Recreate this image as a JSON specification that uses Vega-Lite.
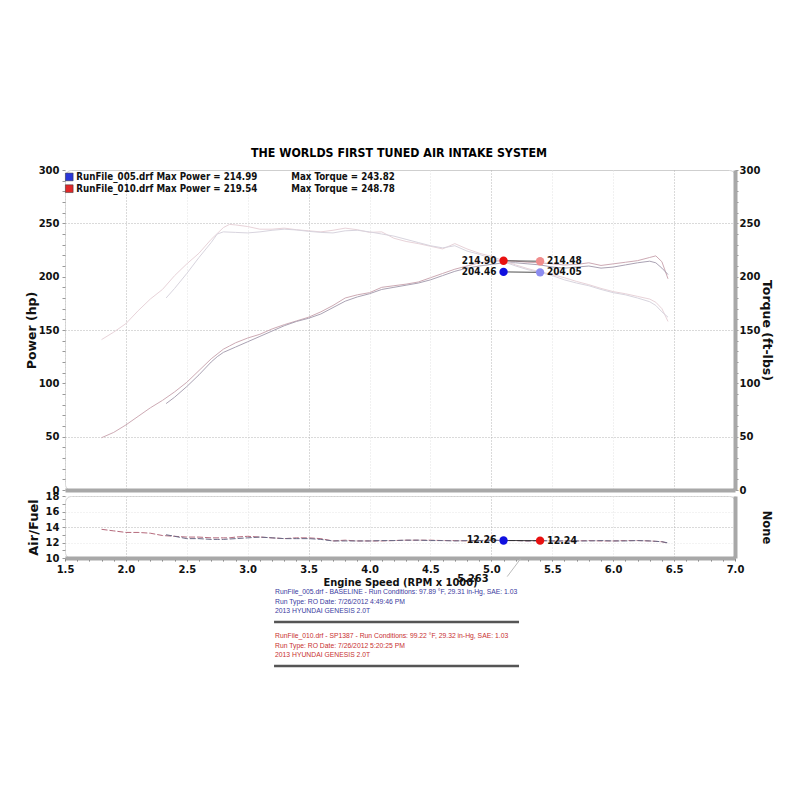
{
  "$schema": "https://vega.github.io/schema/vega-lite/v6.json",
  "background": "white",
  "padding": {"left": 24, "top": 147, "right": 10, "bottom": 10},
  "title": {
    "text": "THE WORLDS FIRST TUNED AIR INTAKE SYSTEM",
    "font": "DejaVu Sans Condensed",
    "fontSize": 12.3,
    "fontWeight": "bold",
    "color": "#000000",
    "anchor": "middle",
    "offset": 5
  },
  "bounds": "flush",
  "spacing": 6,
  "datasets": {
    "dyno": [
      {"run": "010", "rpm": 1.8, "hp": 49, "tq": 141, "af": 13.7},
      {"run": "010", "rpm": 1.9, "hp": 54, "tq": 148, "af": 13.5},
      {"run": "010", "rpm": 2.0, "hp": 61, "tq": 156, "af": 13.3},
      {"run": "010", "rpm": 2.1, "hp": 69, "tq": 168, "af": 13.3},
      {"run": "010", "rpm": 2.2, "hp": 77, "tq": 179, "af": 13.2},
      {"run": "010", "rpm": 2.3, "hp": 84, "tq": 188, "af": 12.9},
      {"run": "010", "rpm": 2.4, "hp": 92, "tq": 201, "af": 12.8},
      {"run": "010", "rpm": 2.5, "hp": 101, "tq": 212, "af": 12.7},
      {"run": "010", "rpm": 2.6, "hp": 112, "tq": 222, "af": 12.7},
      {"run": "010", "rpm": 2.7, "hp": 123, "tq": 235, "af": 12.6},
      {"run": "010", "rpm": 2.8, "hp": 132, "tq": 246, "af": 12.6},
      {"run": "010", "rpm": 2.85, "hp": 135, "tq": 249, "af": 12.6},
      {"run": "010", "rpm": 2.9, "hp": 138, "tq": 248.5, "af": 12.7},
      {"run": "010", "rpm": 3.0, "hp": 142.5, "tq": 247, "af": 12.8},
      {"run": "010", "rpm": 3.1, "hp": 146, "tq": 244.5, "af": 12.7},
      {"run": "010", "rpm": 3.2, "hp": 151, "tq": 244.5, "af": 12.6},
      {"run": "010", "rpm": 3.3, "hp": 155, "tq": 245.5, "af": 12.5},
      {"run": "010", "rpm": 3.4, "hp": 158.5, "tq": 244, "af": 12.6},
      {"run": "010", "rpm": 3.5, "hp": 162, "tq": 243, "af": 12.6},
      {"run": "010", "rpm": 3.6, "hp": 167, "tq": 242, "af": 12.5},
      {"run": "010", "rpm": 3.7, "hp": 173, "tq": 243.5, "af": 12.2},
      {"run": "010", "rpm": 3.8, "hp": 180, "tq": 245.5, "af": 12.3},
      {"run": "010", "rpm": 3.9, "hp": 183, "tq": 244, "af": 12.2},
      {"run": "010", "rpm": 4.0, "hp": 185, "tq": 241.5, "af": 12.2},
      {"run": "010", "rpm": 4.1, "hp": 190, "tq": 242, "af": 12.2},
      {"run": "010", "rpm": 4.2, "hp": 191.5, "tq": 236, "af": 12.25},
      {"run": "010", "rpm": 4.3, "hp": 193, "tq": 233, "af": 12.3},
      {"run": "010", "rpm": 4.4, "hp": 195, "tq": 231, "af": 12.3},
      {"run": "010", "rpm": 4.5, "hp": 199, "tq": 228.5, "af": 12.3},
      {"run": "010", "rpm": 4.6, "hp": 203, "tq": 226, "af": 12.25},
      {"run": "010", "rpm": 4.7, "hp": 207, "tq": 231, "af": 12.25},
      {"run": "010", "rpm": 4.8, "hp": 210, "tq": 226, "af": 12.2},
      {"run": "010", "rpm": 4.9, "hp": 213, "tq": 222, "af": 12.25},
      {"run": "010", "rpm": 5.0, "hp": 214.5, "tq": 219, "af": 12.3},
      {"run": "010", "rpm": 5.1, "hp": 215, "tq": 215, "af": 12.25},
      {"run": "010", "rpm": 5.2, "hp": 214.5, "tq": 211, "af": 12.25},
      {"run": "010", "rpm": 5.3, "hp": 213.5, "tq": 207.5, "af": 12.2},
      {"run": "010", "rpm": 5.4, "hp": 213, "tq": 204.5, "af": 12.25},
      {"run": "010", "rpm": 5.5, "hp": 212, "tq": 202, "af": 12.2},
      {"run": "010", "rpm": 5.6, "hp": 211, "tq": 199, "af": 12.2},
      {"run": "010", "rpm": 5.7, "hp": 211.5, "tq": 195.5, "af": 12.2},
      {"run": "010", "rpm": 5.8, "hp": 213, "tq": 192.5, "af": 12.25},
      {"run": "010", "rpm": 5.9, "hp": 210.5, "tq": 189, "af": 12.2},
      {"run": "010", "rpm": 6.0, "hp": 212, "tq": 186, "af": 12.2},
      {"run": "010", "rpm": 6.1, "hp": 213.5, "tq": 184, "af": 12.25},
      {"run": "010", "rpm": 6.2, "hp": 215, "tq": 181.5, "af": 12.25},
      {"run": "010", "rpm": 6.3, "hp": 218, "tq": 179, "af": 12.2},
      {"run": "010", "rpm": 6.35, "hp": 219.5, "tq": 176, "af": 12.15},
      {"run": "010", "rpm": 6.4, "hp": 214, "tq": 170, "af": 12.1},
      {"run": "010", "rpm": 6.45, "hp": 198, "tq": 158, "af": 11.9},
      {"run": "005", "rpm": 2.33, "hp": 81, "tq": 180, "af": 13.0},
      {"run": "005", "rpm": 2.4, "hp": 87, "tq": 189, "af": 12.8},
      {"run": "005", "rpm": 2.5, "hp": 97, "tq": 203, "af": 12.5},
      {"run": "005", "rpm": 2.6, "hp": 108, "tq": 218, "af": 12.5},
      {"run": "005", "rpm": 2.7, "hp": 120, "tq": 232, "af": 12.4},
      {"run": "005", "rpm": 2.75, "hp": 125, "tq": 240, "af": 12.4},
      {"run": "005", "rpm": 2.8, "hp": 129, "tq": 242, "af": 12.4},
      {"run": "005", "rpm": 2.9, "hp": 134, "tq": 241.5, "af": 12.5},
      {"run": "005", "rpm": 3.0, "hp": 139, "tq": 241, "af": 12.6},
      {"run": "005", "rpm": 3.1, "hp": 144, "tq": 242, "af": 12.7},
      {"run": "005", "rpm": 3.2, "hp": 149, "tq": 243.5, "af": 12.6},
      {"run": "005", "rpm": 3.3, "hp": 154, "tq": 244.5, "af": 12.5},
      {"run": "005", "rpm": 3.4, "hp": 158, "tq": 243.8, "af": 12.5},
      {"run": "005", "rpm": 3.5, "hp": 161, "tq": 242.5, "af": 12.5},
      {"run": "005", "rpm": 3.6, "hp": 165, "tq": 241.5, "af": 12.4},
      {"run": "005", "rpm": 3.7, "hp": 171, "tq": 241, "af": 12.2},
      {"run": "005", "rpm": 3.8, "hp": 177, "tq": 243, "af": 12.2},
      {"run": "005", "rpm": 3.9, "hp": 181, "tq": 243.5, "af": 12.2},
      {"run": "005", "rpm": 4.0, "hp": 184, "tq": 242, "af": 12.2},
      {"run": "005", "rpm": 4.1, "hp": 188, "tq": 240, "af": 12.25},
      {"run": "005", "rpm": 4.2, "hp": 190, "tq": 238, "af": 12.25},
      {"run": "005", "rpm": 4.3, "hp": 192, "tq": 235, "af": 12.3},
      {"run": "005", "rpm": 4.4, "hp": 194, "tq": 232, "af": 12.3},
      {"run": "005", "rpm": 4.5, "hp": 197, "tq": 229, "af": 12.25},
      {"run": "005", "rpm": 4.6, "hp": 201, "tq": 227, "af": 12.25},
      {"run": "005", "rpm": 4.7, "hp": 205, "tq": 229, "af": 12.2},
      {"run": "005", "rpm": 4.8, "hp": 208, "tq": 224, "af": 12.25},
      {"run": "005", "rpm": 4.9, "hp": 210, "tq": 221, "af": 12.25},
      {"run": "005", "rpm": 5.0, "hp": 211.5, "tq": 217, "af": 12.3},
      {"run": "005", "rpm": 5.1, "hp": 213, "tq": 214, "af": 12.25},
      {"run": "005", "rpm": 5.2, "hp": 213, "tq": 210, "af": 12.25},
      {"run": "005", "rpm": 5.3, "hp": 212, "tq": 206.5, "af": 12.2},
      {"run": "005", "rpm": 5.4, "hp": 211, "tq": 204, "af": 12.25},
      {"run": "005", "rpm": 5.5, "hp": 209, "tq": 201, "af": 12.2},
      {"run": "005", "rpm": 5.6, "hp": 208, "tq": 197, "af": 12.2},
      {"run": "005", "rpm": 5.7, "hp": 209, "tq": 194, "af": 12.2},
      {"run": "005", "rpm": 5.8, "hp": 210, "tq": 191.5, "af": 12.2},
      {"run": "005", "rpm": 5.9, "hp": 208, "tq": 188, "af": 12.25},
      {"run": "005", "rpm": 6.0, "hp": 209, "tq": 185, "af": 12.2},
      {"run": "005", "rpm": 6.1, "hp": 211, "tq": 183, "af": 12.2},
      {"run": "005", "rpm": 6.2, "hp": 213, "tq": 180, "af": 12.25},
      {"run": "005", "rpm": 6.3, "hp": 214.5, "tq": 176.5, "af": 12.2},
      {"run": "005", "rpm": 6.35, "hp": 213, "tq": 173, "af": 12.15},
      {"run": "005", "rpm": 6.4, "hp": 208, "tq": 167, "af": 12.1},
      {"run": "005", "rpm": 6.45, "hp": 202, "tq": 162, "af": 11.95}
    ],
    "legendRows": [
      {"id": "sqblue", "rpm": 1.535, "val": 293.5, "a": "RunFile_005.drf Max Power = 214.99", "b": "Max Torque = 243.82"},
      {"id": "sqred", "rpm": 1.535, "val": 282.5, "a": "RunFile_010.drf Max Power = 219.54", "b": "Max Torque = 248.78"}
    ],
    "cursorTop": [
      {"pair": "p1", "id": "red", "rpm": 5.1, "val": 214.9, "label": "214.90"},
      {"pair": "p1", "id": "pink", "rpm": 5.4, "val": 214.48, "label": "214.48"},
      {"pair": "p2", "id": "blue", "rpm": 5.1, "val": 204.46, "label": "204.46"},
      {"pair": "p2", "id": "lavender", "rpm": 5.4, "val": 204.05, "label": "204.05"}
    ],
    "cursorBottom": [
      {"pair": "p3", "id": "blue", "rpm": 5.1, "val": 12.26, "label": "12.26"},
      {"pair": "p3", "id": "red", "rpm": 5.4, "val": 12.24, "label": "12.24"}
    ],
    "info": [
      {"grp": "base", "rpm": 3.224, "val": 5.61, "text": "RunFile_005.drf - BASELINE  -  Run Conditions: 97.89 °F, 29.31 in-Hg, SAE: 1.03"},
      {"grp": "base", "rpm": 3.224, "val": 4.32, "text": "Run Type: RO  Date: 7/26/2012 4:49:46 PM"},
      {"grp": "base", "rpm": 3.224, "val": 3.16, "text": "2013 HYUNDAI GENESIS 2.0T"},
      {"grp": "tuned", "rpm": 3.224, "val": -0.06, "text": "RunFile_010.drf - SP1387  -  Run Conditions: 99.22 °F, 29.32 in-Hg, SAE: 1.03"},
      {"grp": "tuned", "rpm": 3.224, "val": -1.35, "text": "Run Type: RO  Date: 7/26/2012 5:20:25 PM"},
      {"grp": "tuned", "rpm": 3.224, "val": -2.52, "text": "2013 HYUNDAI GENESIS 2.0T"}
    ],
    "separators": [
      {"rpm": 3.216, "rpm2": 5.227, "val": 1.74},
      {"rpm": 3.216, "rpm2": 5.227, "val": -3.94}
    ],
    "cursorRpm": [
      {"rpm": 4.72, "val": 7.29, "text": "5.263", "rpm2": 5.13, "val2": 7.6, "rpm3": 5.24, "val3": 9.9}
    ]
  },
  "vconcat": [
    {
      "width": 670,
      "height": 320,
      "encoding": {
        "x": {
          "field": "rpm",
          "type": "quantitative",
          "title": null,
          "scale": {"domain": [1.5, 7], "nice": false, "zero": false},
          "axis": {
            "labels": false,
            "ticks": false,
            "domain": true,
            "domainColor": "#a8a8a8",
            "domainWidth": 4,
            "values": [1.5, 2, 2.5, 3, 3.5, 4, 4.5, 5, 5.5, 6, 6.5, 7],
            "gridColor": {"condition": {"test": "round(datum.value*10) % 15 == 5", "value": "#b4b4b4"}, "value": "#e2e2e2"}
          }
        }
      },
      "layer": [
        {
          "data": {"name": "dyno"},
          "mark": {"type": "line", "strokeWidth": 1},
          "encoding": {
            "y": {
              "field": "hp",
              "type": "quantitative",
              "scale": {"domain": [0, 300], "nice": false},
              "axis": {
                "orient": "left",
                "title": "Power (hp)",
                "titleFontSize": 12.5,
                "titlePadding": 0,
                "values": [0, 10, 20, 30, 40, 50, 60, 70, 80, 90, 100, 110, 120, 130, 140, 150, 160, 170, 180, 190, 200, 210, 220, 230, 240, 250, 260, 270, 280, 290, 300],
                "labelExpr": "datum.value % 50 == 0 ? datum.label : ''",
                "gridOpacity": {"condition": {"test": "datum.value % 100 == 50", "value": 1}, "value": 0}
              }
            },
            "detail": {"field": "run"},
            "color": {"condition": {"test": "datum.run == '010'", "value": "#cdaab4"}, "value": "#aaa2b3"}
          }
        },
        {
          "data": {"name": "dyno"},
          "mark": {"type": "line", "strokeWidth": 1},
          "encoding": {
            "y": {
              "field": "tq",
              "type": "quantitative",
              "scale": {"domain": [0, 300], "nice": false},
              "axis": {
                "orient": "right",
                "title": "Torque (ft-lbs)",
                "titleFontSize": 12.5,
                "titlePadding": 0,
                "labelPadding": 1,
                "grid": false,
                "domain": true,
                "domainColor": "#a8a8a8",
                "domainWidth": 4,
                "values": [0, 10, 20, 30, 40, 50, 60, 70, 80, 90, 100, 110, 120, 130, 140, 150, 160, 170, 180, 190, 200, 210, 220, 230, 240, 250, 260, 270, 280, 290, 300],
                "labelExpr": "datum.value % 50 == 0 ? datum.label : ''"
              }
            },
            "detail": {"field": "run"},
            "color": {"condition": {"test": "datum.run == '010'", "value": "#e8d3d9"}, "value": "#d8d4de"}
          }
        },
        {
          "data": {"name": "legendRows"},
          "mark": {"type": "square", "filled": true, "size": 60, "stroke": "#333333", "strokeWidth": 0.5, "opacity": 1},
          "encoding": {
            "y": {"field": "val", "type": "quantitative", "scale": {"domain": [0, 300], "nice": false}, "axis": null},
            "color": {"field": "id", "type": "nominal", "legend": null,
              "scale": {"domain": ["red", "pink", "blue", "lavender", "sqblue", "sqred", "base", "tuned"], "range": ["#e81010", "#f08c8c", "#1010e0", "#8c8cf0", "#2a36d8", "#e02828", "#3a3aa0", "#c83030"]}}
          }
        },
        {
          "data": {"name": "legendRows"},
          "mark": {"type": "text", "align": "left", "baseline": "middle", "dx": 7, "font": "DejaVu Sans Condensed", "fontWeight": "bold", "fontSize": 9.7, "color": "#111111"},
          "encoding": {
            "y": {"field": "val", "type": "quantitative", "scale": {"domain": [0, 300], "nice": false}, "axis": null},
            "text": {"field": "a"}
          }
        },
        {
          "data": {"name": "legendRows"},
          "mark": {"type": "text", "align": "left", "baseline": "middle", "dx": 222, "font": "DejaVu Sans Condensed", "fontWeight": "bold", "fontSize": 9.7, "color": "#111111"},
          "encoding": {
            "y": {"field": "val", "type": "quantitative", "scale": {"domain": [0, 300], "nice": false}, "axis": null},
            "text": {"field": "b"}
          }
        },
        {
          "data": {"name": "cursorTop"},
          "mark": {"type": "line", "strokeWidth": 0.8, "color": "#222222"},
          "encoding": {
            "y": {"field": "val", "type": "quantitative", "scale": {"domain": [0, 300], "nice": false}, "axis": null},
            "detail": {"field": "pair"}
          }
        },
        {
          "data": {"name": "cursorTop"},
          "mark": {"type": "circle", "size": 70, "opacity": 1},
          "encoding": {
            "y": {"field": "val", "type": "quantitative", "scale": {"domain": [0, 300], "nice": false}, "axis": null},
            "color": {"field": "id", "type": "nominal", "legend": null,
              "scale": {"domain": ["red", "pink", "blue", "lavender", "sqblue", "sqred", "base", "tuned"], "range": ["#e81010", "#f08c8c", "#1010e0", "#8c8cf0", "#2a36d8", "#e02828", "#3a3aa0", "#c83030"]}}
          }
        },
        {
          "data": {"name": "cursorTop"},
          "transform": [{"filter": "datum.rpm < 5.25"}],
          "mark": {"type": "text", "align": "right", "baseline": "middle", "dx": -7, "font": "DejaVu Sans Condensed", "fontWeight": "bold", "fontSize": 10, "color": "#111111"},
          "encoding": {
            "y": {"field": "val", "type": "quantitative", "scale": {"domain": [0, 300], "nice": false}, "axis": null},
            "text": {"field": "label"}
          }
        },
        {
          "data": {"name": "cursorTop"},
          "transform": [{"filter": "datum.rpm > 5.25"}],
          "mark": {"type": "text", "align": "left", "baseline": "middle", "dx": 7, "font": "DejaVu Sans Condensed", "fontWeight": "bold", "fontSize": 10, "color": "#111111"},
          "encoding": {
            "y": {"field": "val", "type": "quantitative", "scale": {"domain": [0, 300], "nice": false}, "axis": null},
            "text": {"field": "label"}
          }
        }
      ],
      "resolve": {"scale": {"y": "independent"}}
    },
    {
      "width": 670,
      "height": 62,
      "encoding": {
        "x": {
          "field": "rpm",
          "type": "quantitative",
          "title": "Engine Speed (RPM x 1000)",
          "scale": {"domain": [1.5, 7], "nice": false, "zero": false},
          "axis": {
            "domain": true,
            "domainColor": "#a8a8a8",
            "domainWidth": 4,
            "tickColor": "#777777",
            "titleFont": "DejaVu Sans Condensed",
            "titleFontSize": 11,
            "titlePadding": 2,
            "values": [1.5, 1.6, 1.7, 1.8, 1.9, 2, 2.1, 2.2, 2.3, 2.4, 2.5, 2.6, 2.7, 2.8, 2.9, 3, 3.1, 3.2, 3.3, 3.4, 3.5, 3.6, 3.7, 3.8, 3.9, 4, 4.1, 4.2, 4.3, 4.4, 4.5, 4.6, 4.7, 4.8, 4.9, 5, 5.1, 5.2, 5.3, 5.4, 5.5, 5.6, 5.7, 5.8, 5.9, 6, 6.1, 6.2, 6.3, 6.4, 6.5, 6.6, 6.7, 6.8, 6.9, 7],
            "labelExpr": "abs(datum.value*2 - round(datum.value*2)) < 0.001 ? format(datum.value, '.1f') : ''",
            "gridColor": {"condition": {"test": "round(datum.value*10) % 15 == 5", "value": "#b4b4b4"}, "value": "#e2e2e2"},
            "gridOpacity": {"condition": {"test": "abs(datum.value*2 - round(datum.value*2)) < 0.001", "value": 1}, "value": 0}
          }
        }
      },
      "layer": [
        {
          "data": {"name": "dyno"},
          "mark": {"type": "line", "strokeWidth": 1, "strokeDash": [6, 2]},
          "encoding": {
            "y": {
              "field": "af",
              "type": "quantitative",
              "scale": {"domain": [10, 18], "nice": false, "zero": false},
              "axis": {
                "orient": "left",
                "title": "Air/Fuel",
                "titleFontSize": 13,
                "titlePadding": 5,
                "values": [10, 11, 12, 13, 14, 15, 16, 17, 18],
                "labelExpr": "datum.value % 2 == 0 ? datum.label : ''",
                "gridColor": {"condition": {"test": "datum.value == 14", "value": "#b4b4b4"}, "value": "#e6e6e6"},
                "gridOpacity": {"condition": {"test": "datum.value % 2 == 0", "value": 1}, "value": 0}
              }
            },
            "detail": {"field": "run"},
            "color": {"condition": {"test": "datum.run == '010'", "value": "#b56a7c"}, "value": "#6a6a86"}
          }
        },
        {
          "data": {"name": "cursorBottom"},
          "mark": {"type": "line", "strokeWidth": 0.8, "color": "#222222"},
          "encoding": {
            "y": {
              "field": "val",
              "type": "quantitative",
              "scale": {"domain": [10, 18], "nice": false, "zero": false},
              "axis": {"orient": "right", "title": "None", "titlePadding": 25, "labels": false, "ticks": false, "grid": false, "domain": true, "domainColor": "#a8a8a8", "domainWidth": 4}
            },
            "detail": {"field": "pair"}
          }
        },
        {
          "data": {"name": "cursorBottom"},
          "mark": {"type": "circle", "size": 70, "opacity": 1},
          "encoding": {
            "y": {"field": "val", "type": "quantitative", "scale": {"domain": [10, 18], "nice": false, "zero": false}, "axis": null},
            "color": {"field": "id", "type": "nominal", "legend": null,
              "scale": {"domain": ["red", "pink", "blue", "lavender", "sqblue", "sqred", "base", "tuned"], "range": ["#e81010", "#f08c8c", "#1010e0", "#8c8cf0", "#2a36d8", "#e02828", "#3a3aa0", "#c83030"]}}
          }
        },
        {
          "data": {"name": "cursorBottom"},
          "transform": [{"filter": "datum.rpm < 5.25"}],
          "mark": {"type": "text", "align": "right", "baseline": "middle", "dx": -7, "font": "DejaVu Sans Condensed", "fontWeight": "bold", "fontSize": 10.5, "color": "#111111"},
          "encoding": {
            "y": {"field": "val", "type": "quantitative", "scale": {"domain": [10, 18], "nice": false, "zero": false}, "axis": null},
            "text": {"field": "label"}
          }
        },
        {
          "data": {"name": "cursorBottom"},
          "transform": [{"filter": "datum.rpm > 5.25"}],
          "mark": {"type": "text", "align": "left", "baseline": "middle", "dx": 7, "font": "DejaVu Sans Condensed", "fontWeight": "bold", "fontSize": 10.5, "color": "#111111"},
          "encoding": {
            "y": {"field": "val", "type": "quantitative", "scale": {"domain": [10, 18], "nice": false, "zero": false}, "axis": null},
            "text": {"field": "label"}
          }
        },
        {
          "data": {"name": "info"},
          "mark": {"type": "text", "align": "left", "baseline": "middle", "font": "Liberation Sans", "fontSize": 6.8},
          "encoding": {
            "y": {"field": "val", "type": "quantitative", "scale": {"domain": [10, 18], "nice": false, "zero": false}, "axis": null},
            "text": {"field": "text"},
            "color": {"field": "grp", "type": "nominal", "legend": null,
              "scale": {"domain": ["red", "pink", "blue", "lavender", "sqblue", "sqred", "base", "tuned"], "range": ["#e81010", "#f08c8c", "#1010e0", "#8c8cf0", "#2a36d8", "#e02828", "#3a3aa0", "#c83030"]}}
          }
        },
        {
          "data": {"name": "separators"},
          "mark": {"type": "rule", "color": "#555555", "strokeWidth": 2.5},
          "encoding": {
            "x2": {"field": "rpm2"},
            "y": {"field": "val", "type": "quantitative", "scale": {"domain": [10, 18], "nice": false, "zero": false}, "axis": null}
          }
        },
        {
          "data": {"name": "cursorRpm"},
          "mark": {"type": "rule", "color": "#bbbbbb", "strokeWidth": 1},
          "encoding": {
            "x": {"field": "rpm2", "type": "quantitative"},
            "x2": {"field": "rpm3"},
            "y": {"field": "val2", "type": "quantitative", "scale": {"domain": [10, 18], "nice": false, "zero": false}, "axis": null},
            "y2": {"field": "val3"}
          }
        },
        {
          "data": {"name": "cursorRpm"},
          "mark": {"type": "text", "align": "left", "baseline": "middle", "font": "DejaVu Sans Condensed", "fontWeight": "bold", "fontSize": 11, "color": "#111111"},
          "encoding": {
            "y": {"field": "val", "type": "quantitative", "scale": {"domain": [10, 18], "nice": false, "zero": false}, "axis": null},
            "text": {"field": "text"}
          }
        }
      ],
      "resolve": {"scale": {"y": "independent"}}
    }
  ],
  "config": {
    "font": "DejaVu Sans",
    "view": {"stroke": "#cfcfcf", "strokeWidth": 1, "cornerRadius": 6},
    "axis": {
      "labelFont": "DejaVu Sans",
      "labelFontWeight": "bold",
      "labelFontSize": 10,
      "labelColor": "#111111",
      "labelPadding": 3,
      "labelFlush": false,
      "labelOverlap": false,
      "labelBound": false,
      "titleFont": "DejaVu Sans",
      "titleFontWeight": "bold",
      "titleFontSize": 11.5,
      "titleColor": "#111111",
      "tickColor": "#999999",
      "tickSize": 3,
      "gridDash": [1, 2],
      "gridColor": "#b4b4b4",
      "domain": false
    }
  }
}
